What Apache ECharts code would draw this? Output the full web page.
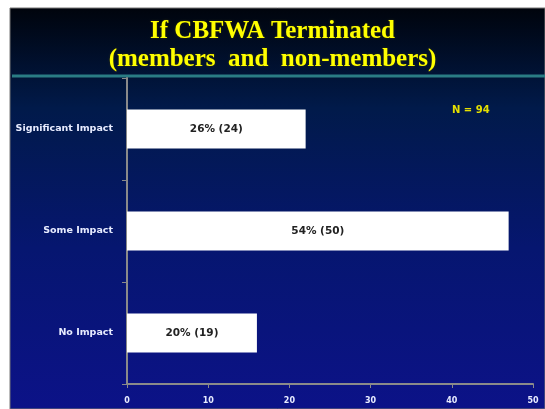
<!DOCTYPE html>
<html>
<head>
<meta charset="utf-8">
<script src="https://cdn.jsdelivr.net/npm/echarts@6/dist/echarts.min.js"></script>
<style>
html,body{margin:0;padding:0;background:#fff;}
#main{width:545px;height:409px;}
</style>
</head>
<body>
<div id="main"></div>
<script>
var categories = ['Significant Impact', 'Some Impact', 'No Impact'];
var values = [22, 47, 16];
var barLabels = ['26% (24)', '54% (50)', '20% (19)'];
var xTicks = [0, 10, 20, 30, 40, 50];

var chart = echarts.init(document.getElementById('main'));
chart.setOption({
	backgroundColor: '#ffffff',
	graphic: [
		{
			type: 'rect',
			z: -10,
			shape: {x: 10, y: 8, width: 535, height: 401},
			style: {
				fill: new echarts.graphic.LinearGradient(0, 0, 0, 1, [
					{offset: 0, color: '#00040c'},
					{offset: 0.25, color: '#011a4a'},
					{offset: 0.6, color: '#061670'},
					{offset: 1, color: '#0c1288'}
				]),
				stroke: '#777',
				lineWidth: 1
			}
		},
		{
			type: 'line',
			z: -5,
			shape: {x1: 12, y1: 76, x2: 545, y2: 76},
			style: {stroke: '#2a7c84', lineWidth: 3}
		},
		{
			type: 'text',
			left: 452,
			top: 105,
			style: {text: 'N = 94', fill: '#e6e000', font: 'bold 10px "DejaVu Sans"'}
		}
	],
	title: {
		text: 'If CBFWA Terminated\n(members  and  non-members)',
		left: 'center',
		top: 13,
		textStyle: {
			fontFamily: 'Liberation Serif',
			fontSize: 25,
			fontWeight: 'bold',
			color: '#ffff00',
			lineHeight: 28,
			textShadowColor: '#333300',
			textShadowBlur: 2
		}
	},
	grid: {left: 127, right: 12, top: 78, bottom: 25},
	xAxis: {
		type: 'value',
		min: 0,
		max: 50,
		interval: 10,
		axisLine: {show: true, lineStyle: {color: '#8a8a8a', width: 2}},
		axisTick: {show: true, length: 4, lineStyle: {color: '#8a8a8a'}},
		splitLine: {show: false},
		axisLabel: {color: '#e8ecff', fontSize: 8, fontWeight: 'bold', fontFamily: 'DejaVu Sans', margin: 13}
	},
	yAxis: {
		type: 'category',
		inverse: true,
		data: categories,
		axisLine: {show: true, lineStyle: {color: '#8a8a8a', width: 2}},
		axisTick: {show: true, length: 5, lineStyle: {color: '#8a8a8a'}},
		axisLabel: {color: '#e8ecff', fontSize: 9.5, fontWeight: 'bold', fontFamily: 'DejaVu Sans', margin: 14}
	},
	series: [{
		type: 'bar',
		data: values,
		barWidth: 39,
		itemStyle: {color: '#ffffff'},
		label: {
			show: true,
			position: 'inside',
			color: '#222',
			fontSize: 10.5,
			fontWeight: 'bold',
			fontFamily: 'DejaVu Sans',
			formatter: function(p){ return barLabels[p.dataIndex]; }
		}
	}]
});
</script>
</body>
</html>
